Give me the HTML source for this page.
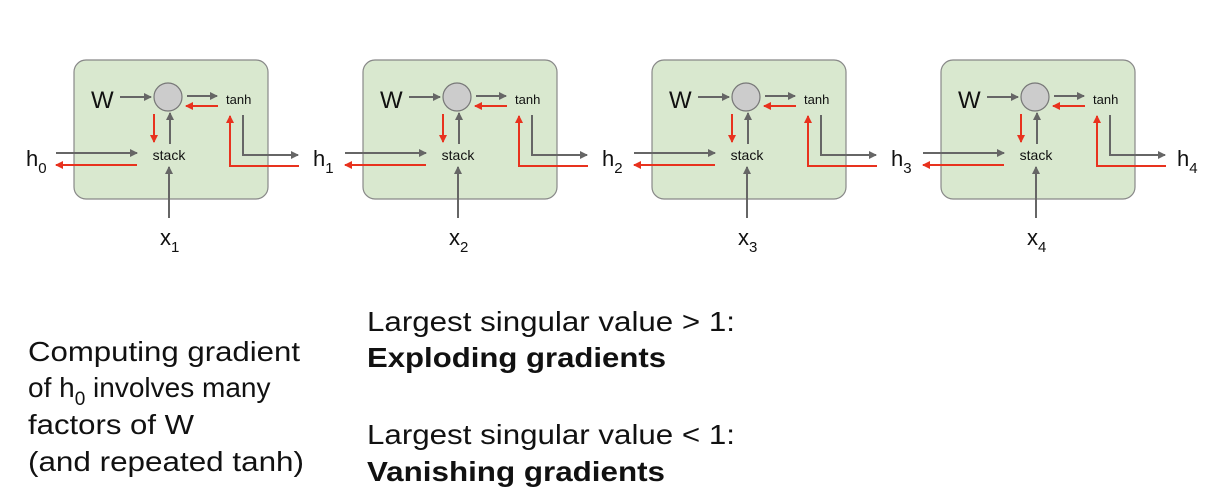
<!DOCTYPE html>
<html><head><meta charset="utf-8"><style>
html,body{margin:0;padding:0;background:#fff;}
svg{display:block;font-family:"Liberation Sans",Arial,sans-serif;}
</style></head><body>
<svg width="1224" height="496" viewBox="0 0 1224 496" xmlns="http://www.w3.org/2000/svg">
<defs>
<marker id="g" markerWidth="8" markerHeight="8" refX="7" refY="4" orient="auto" markerUnits="userSpaceOnUse"><path d="M0,0 L8,4 L0,8 z" fill="#666"/></marker>
<marker id="r" markerWidth="8" markerHeight="8" refX="7" refY="4" orient="auto" markerUnits="userSpaceOnUse"><path d="M0,0 L8,4 L0,8 z" fill="#e8321e"/></marker>
<g id="cell">
<rect x="74" y="60" width="194" height="139" rx="12" fill="#d9e8cf" stroke="#888" stroke-width="1.2"/>
<text x="91" y="108" font-size="24" fill="#111">W</text>
<line x1="120" y1="97" x2="151" y2="97" stroke="#666" stroke-width="2" marker-end="url(#g)"/>
<circle cx="168" cy="97" r="14" fill="#ccc" stroke="#777" stroke-width="1.2"/>
<line x1="187" y1="96" x2="217" y2="96" stroke="#666" stroke-width="2" marker-end="url(#g)"/>
<line x1="218" y1="106" x2="186" y2="106" stroke="#e8321e" stroke-width="2" marker-end="url(#r)"/>
<text x="226" y="104" font-size="13" fill="#111">tanh</text>
<line x1="154" y1="114" x2="154" y2="142" stroke="#e8321e" stroke-width="2" marker-end="url(#r)"/>
<line x1="170" y1="144" x2="170" y2="113" stroke="#666" stroke-width="2" marker-end="url(#g)"/>
<text x="169" y="160" font-size="14" fill="#111" text-anchor="middle">stack</text>
<line x1="56" y1="153" x2="137" y2="153" stroke="#666" stroke-width="2" marker-end="url(#g)"/>
<line x1="137" y1="165" x2="56" y2="165" stroke="#e8321e" stroke-width="2" marker-end="url(#r)"/>
<line x1="169" y1="218" x2="169" y2="167" stroke="#666" stroke-width="2" marker-end="url(#g)"/>
<polyline points="243,115 243,155 298,155" fill="none" stroke="#666" stroke-width="2" marker-end="url(#g)"/>
<polyline points="299,166 230,166 230,116" fill="none" stroke="#e8321e" stroke-width="2" marker-end="url(#r)"/>
</g>
</defs>
<use href="#cell"/>
<use href="#cell" x="289"/>
<use href="#cell" x="578"/>
<use href="#cell" x="867"/>
<g font-size="22" fill="#111">
<text x="26" y="166">h<tspan font-size="15" dy="7">0</tspan></text>
<text x="313" y="166">h<tspan font-size="15" dy="7">1</tspan></text>
<text x="602" y="166">h<tspan font-size="15" dy="7">2</tspan></text>
<text x="891" y="166">h<tspan font-size="15" dy="7">3</tspan></text>
<text x="1177" y="166">h<tspan font-size="15" dy="7">4</tspan></text>
<text x="160" y="245">x<tspan font-size="15" dy="7">1</tspan></text>
<text x="449" y="245">x<tspan font-size="15" dy="7">2</tspan></text>
<text x="738" y="245">x<tspan font-size="15" dy="7">3</tspan></text>
<text x="1027" y="245">x<tspan font-size="15" dy="7">4</tspan></text>
</g>
<g font-size="28" fill="#111">
<text x="28" y="361" textLength="272" lengthAdjust="spacingAndGlyphs">Computing gradient</text>
<text x="28" y="397">of h<tspan font-size="19" dy="8">0</tspan><tspan dy="-8"> involves many</tspan></text>
<text x="28" y="434" textLength="166" lengthAdjust="spacingAndGlyphs">factors of W</text>
<text x="28" y="471" textLength="276" lengthAdjust="spacingAndGlyphs">(and repeated tanh)</text>
<text x="367" y="331" textLength="368" lengthAdjust="spacingAndGlyphs">Largest singular value &gt; 1:</text>
<text x="367" y="367" font-weight="bold" textLength="299" lengthAdjust="spacingAndGlyphs">Exploding gradients</text>
<text x="367" y="444" textLength="368" lengthAdjust="spacingAndGlyphs">Largest singular value &lt; 1:</text>
<text x="367" y="481" font-weight="bold" textLength="298" lengthAdjust="spacingAndGlyphs">Vanishing gradients</text>
</g>
</svg>
</body></html>
